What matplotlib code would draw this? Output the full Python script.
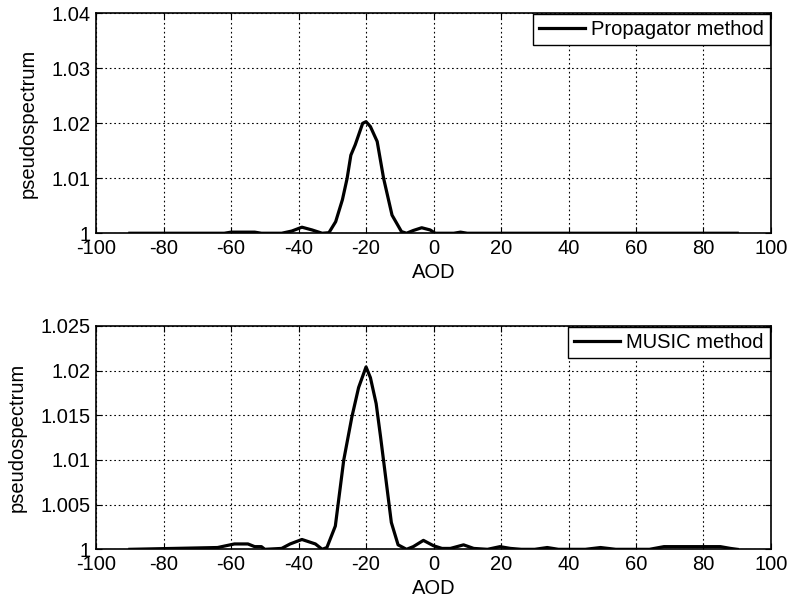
import matplotlib
matplotlib.use("Agg")
import matplotlib.pyplot as plt
from matplotlib.ticker import FuncFormatter

plt.rcParams['font.family'] = ['Liberation Sans', 'DejaVu Sans']
plt.rcParams['font.size'] = 14.5

# Propagator method pseudospectrum
prop_aod = [-90, -62, -60, -53, -51, -45, -42, -39, -36, -33, -31, -29, -27,
            -25.6, -24.5, -23.2, -21, -20, -18.7, -16.7, -14.8, -12.3, -9.5,
            -8, -6, -3.5, -1, 0.5, 6, 8, 10, 90]
prop_val = [1.0, 1.0, 1.0002, 1.0002, 1.0, 1.0, 1.0004, 1.0011, 1.0006, 1.0,
            1.0001, 1.0021, 1.0061, 1.010, 1.0142, 1.0161, 1.0200, 1.0203,
            1.0194, 1.0167, 1.010, 1.0033, 1.0003, 1.0, 1.0005, 1.001, 1.0006,
            1.0, 1.0, 1.0002, 1.0, 1.0]

# MUSIC method pseudospectrum
music_aod = [-90, -64, -59, -55, -53, -51, -50, -45, -42.5, -39, -35, -33,
             -31.6, -29.1, -26.6, -24.2, -22.2, -20, -18.7, -17, -15.7, -14,
             -12.5, -10.5, -8, -6, -3, 0, 2.5, 5, 8.9, 11.9, 16, 19.7, 22.8,
             26, 30, 33.7, 37, 45, 49.5, 54, 64, 68.3, 85, 88, 90]
music_val = [1.0, 1.0002, 1.0006, 1.0006, 1.0003, 1.0003, 1.0, 1.0001, 1.0006,
             1.0011, 1.0006, 1.0, 1.0002, 1.0026, 1.010, 1.0148, 1.0181,
             1.0204, 1.0192, 1.0163, 1.0126, 1.0075, 1.0030, 1.0005, 1.0,
             1.0003, 1.001, 1.0004, 1.0001, 1.0001, 1.0005, 1.0001, 1.0,
             1.0003, 1.0001, 1.0, 1.0, 1.0002, 1.0, 1.0, 1.0002, 1.0, 1.0,
             1.0003, 1.0003, 1.0001, 1.0]

x_ticks = list(range(-100, 101, 20))
prop_yticks = [1.0, 1.01, 1.02, 1.03, 1.04]
music_yticks = [1.0, 1.005, 1.01, 1.015, 1.02, 1.025]

fig = plt.figure(figsize=(7.94, 6.09), dpi=100)
ax1 = fig.add_axes([0.121, 0.617, 0.850, 0.361])
ax2 = fig.add_axes([0.121, 0.098, 0.850, 0.367])


def style_axes(ax, yticks, label):
    ax.set_xlim(-100, 100)
    ax.set_ylim(yticks[0], yticks[-1])
    ax.set_xticks(x_ticks)
    ax.set_yticks(yticks)
    ax.yaxis.set_major_formatter(FuncFormatter(lambda v, p: f"{v:g}"))
    ax.xaxis.set_major_formatter(FuncFormatter(lambda v, p: f"{v:g}"))
    ax.grid(True, color='black', linestyle=(0, (1.5, 2.5)), linewidth=0.8)
    ax.tick_params(direction='in', top=True, right=True, length=4, width=0.8,
                   labelsize=14.5)
    ax.tick_params(axis='x', pad=4)
    ax.tick_params(axis='y', pad=4)
    for s in ax.spines.values():
        s.set_linewidth(1.2)
    ax.set_xlabel("AOD", labelpad=4)
    ax.set_ylabel("pseudospectrum", labelpad=10)
    leg = ax.legend([label], loc='upper right', borderaxespad=0.05,
                    fancybox=False, edgecolor='black', framealpha=1,
                    handlelength=2.3, handletextpad=0.3, borderpad=0.3,
                    fontsize=14.5)
    leg.get_frame().set_linewidth(1.0)


ax1.plot(prop_aod, prop_val, color='black', linewidth=2.3)
style_axes(ax1, prop_yticks, "Propagator method")

ax2.plot(music_aod, music_val, color='black', linewidth=2.3)
style_axes(ax2, music_yticks, "MUSIC method")

fig.savefig("out.png", dpi=100)
